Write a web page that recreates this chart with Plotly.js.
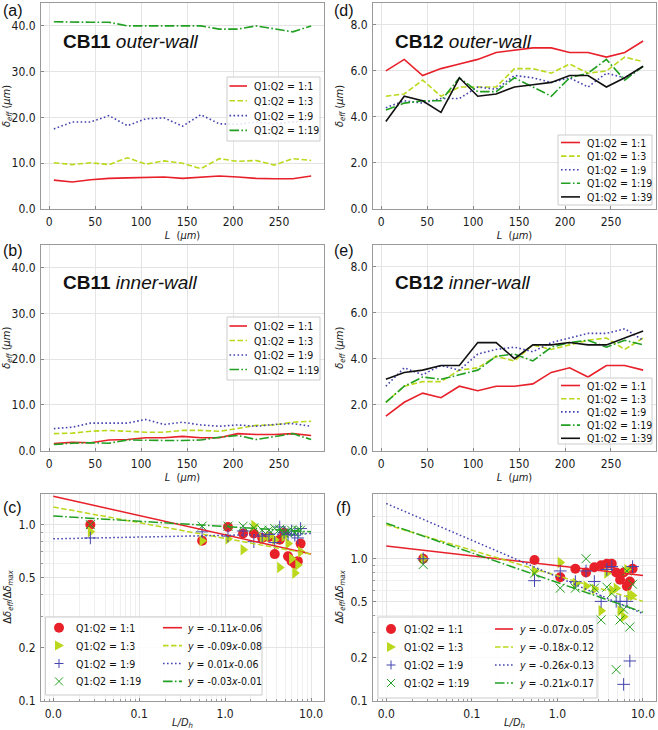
<!DOCTYPE html>
<html><head><meta charset="utf-8">
<script src="https://cdn.plot.ly/plotly-3.0.1.min.js"></script>
<style>html,body{margin:0;padding:0;background:#fff}#chart{width:658px;height:730px}</style>
</head><body><div id="chart"></div>
<script>
// ---------------- DATA ----------------
const L_um = [5, 25, 45, 65, 85, 105, 125, 145, 165, 185, 205, 225, 245, 265, 285];
const ratioNames = ['Q1:Q2 = 1:1', 'Q1:Q2 = 1:3', 'Q1:Q2 = 1:9', 'Q1:Q2 = 1:19', 'Q1:Q2 = 1:39'];

// (a) CB11 outer-wall
const cb11Outer_1_1  = [6.3, 5.9, 6.4, 6.7, 6.8, 6.9, 7.0, 6.7, 6.9, 7.2, 7.0, 6.7, 6.6, 6.6, 7.2];
const cb11Outer_1_3  = [10.1, 9.7, 10.1, 9.7, 11.2, 9.8, 10.5, 10.0, 8.8, 11.0, 10.4, 10.6, 9.6, 11.0, 10.6];
const cb11Outer_1_9  = [17.5, 19.0, 19.0, 20.4, 18.2, 19.7, 19.9, 18.1, 20.6, 18.6, 18.5, 19.0, 18.6, 19.0, 19.4];
const cb11Outer_1_19 = [40.9, 40.8, 40.8, 40.8, 40.0, 40.0, 40.0, 40.0, 40.0, 39.3, 39.3, 40.0, 39.4, 38.7, 40.0];
// (b) CB11 inner-wall
const cb11Inner_1_1  = [1.5, 1.8, 1.7, 2.3, 2.4, 2.8, 2.8, 3.1, 2.8, 2.8, 3.7, 3.5, 3.5, 3.7, 3.3];
const cb11Inner_1_3  = [3.7, 3.8, 4.2, 4.4, 4.2, 4.0, 4.0, 4.4, 4.4, 4.2, 4.8, 5.5, 5.6, 6.2, 6.4];
const cb11Inner_1_9  = [4.8, 5.1, 6.0, 6.0, 6.0, 6.8, 5.7, 6.2, 5.6, 5.3, 5.6, 5.3, 5.7, 5.9, 5.3];
const cb11Inner_1_19 = [1.3, 1.6, 1.7, 1.6, 2.3, 2.2, 2.2, 2.2, 2.3, 2.9, 3.3, 2.4, 3.1, 3.7, 2.4];
// (d) CB12 outer-wall
const cb12Outer_1_1  = [6.0, 6.5, 5.8, 6.1, 6.3, 6.5, 6.8, 6.9, 7.0, 7.0, 6.8, 6.8, 6.6, 6.8, 7.3];
const cb12Outer_1_3  = [4.9, 5.0, 5.6, 4.9, 5.3, 5.3, 5.3, 6.1, 6.1, 5.9, 6.3, 5.9, 6.0, 6.6, 6.4];
const cb12Outer_1_9  = [4.4, 4.7, 4.6, 4.8, 4.8, 5.3, 5.2, 5.8, 5.7, 5.5, 5.7, 5.3, 5.9, 5.7, 6.2];
const cb12Outer_1_19 = [4.3, 4.6, 4.7, 4.7, 5.7, 5.1, 5.1, 5.7, 5.3, 4.9, 5.7, 5.9, 6.5, 5.6, 6.2];
const cb12Outer_1_39 = [3.8, 4.9, 4.7, 4.2, 5.7, 4.9, 5.0, 5.3, 5.4, 5.5, 5.8, 5.8, 5.3, 5.7, 6.2];
// (e) CB12 inner-wall
const cb12Inner_1_1  = [1.5, 2.1, 2.5, 2.3, 2.8, 2.6, 2.8, 2.8, 2.9, 3.4, 3.6, 3.2, 3.7, 3.7, 3.5];
const cb12Inner_1_3  = [2.1, 2.8, 3.0, 3.0, 3.5, 3.6, 4.1, 3.9, 4.6, 4.4, 4.6, 4.8, 4.9, 4.4, 4.9];
const cb12Inner_1_9  = [2.8, 3.6, 3.3, 3.7, 3.5, 4.2, 4.4, 4.5, 4.3, 4.7, 4.9, 5.1, 5.1, 5.3, 4.8];
const cb12Inner_1_19 = [2.1, 2.8, 3.2, 3.1, 3.3, 3.5, 4.1, 4.2, 3.9, 4.5, 4.7, 4.8, 4.5, 4.8, 4.6];
const cb12Inner_1_39 = [3.1, 3.4, 3.5, 3.7, 3.7, 4.7, 4.7, 4.0, 4.6, 4.6, 4.7, 4.6, 4.6, 4.9, 5.2];

// (c), (f) normalised data vs L/Dh
const LDh = [0.027, 0.54, 1.08, 1.62, 2.16, 2.7, 3.24, 3.78, 4.32, 4.86, 5.4, 5.94, 6.48, 7.02, 7.56];
const c_1_1  = [1.0, 0.81, 0.97, 0.89, 0.89, 0.84, 0.85, 0.68, 0.82, 0.90, 0.66, 0.62, 0.60, 0.62, 0.78];
const c_1_3  = [0.91, 0.81, 0.83, 0.72, 0.99, 0.83, 0.86, 0.82, 0.57, 0.86, 0.78, 0.64, 0.53, 0.59, 0.70];
const c_1_9  = [0.84, 0.91, 0.86, 0.92, 0.80, 0.86, 0.88, 0.79, 0.97, 0.90, 0.88, 0.92, 0.87, 0.84, 0.95];
const c_1_19 = [1.0, 0.98, 0.98, 0.98, 0.96, 0.93, 0.93, 0.95, 0.94, 0.89, 0.92, 0.93, 0.90, 0.93, 0.93];
const f_1_1  = [1.0, 0.98, 0.74, 0.85, 0.80, 0.87, 0.90, 0.92, 0.92, 0.80, 0.71, 0.80, 0.64, 0.69, 0.85];
const f_1_3  = [1.0, 0.82, 0.94, 0.67, 0.64, 0.61, 0.43, 0.79, 0.60, 0.62, 0.43, 0.39, 0.84, 0.55, 0.55];
const f_1_9  = [1.0, 0.70, 0.82, 0.69, 0.82, 0.69, 0.50, 0.84, 0.88, 0.50, 0.50, 0.13, 0.50, 0.19, 0.88];
const f_1_19 = [0.91, 0.79, 0.62, 0.62, 1.0, 0.62, 0.37, 0.63, 0.57, 0.165, 0.37, 0.44, 0.82, 0.33, 0.66];

// fitted power-law lines (end points)
const fitX = [0.01, 10];
const fitC_1_1 = [1.45, 0.68], fitC_1_3 = [1.26, 0.68], fitC_1_9 = [0.83, 0.89], fitC_1_19 = [1.12, 0.91];
const fitF_1_1 = [1.23, 0.76], fitF_1_3 = [1.74, 0.50], fitF_1_9 = [2.45, 0.41], fitF_1_19 = [1.78, 0.42];
const fitC_labels = ['<i>y</i> = -0.11<i>x</i>-0.06', '<i>y</i> = -0.09<i>x</i>-0.08', '<i>y</i> = 0.01<i>x</i>-0.06', '<i>y</i> = -0.03<i>x</i>-0.01'];
const fitF_labels = ['<i>y</i> = -0.07<i>x</i>-0.05', '<i>y</i> = -0.18<i>x</i>-0.12', '<i>y</i> = -0.26<i>x</i>-0.13', '<i>y</i> = -0.21<i>x</i>-0.17'];

// tick labels
const linXTicks = [0, 50, 100, 150, 200, 250];
const yTicksCB11 = [0, 10, 20, 30, 40], yTextCB11 = ['0.0', '10.0', '20.0', '30.0', '40.0'];
const yTicksCB12 = [0, 2, 4, 6, 8], yTextCB12 = ['0.0', '2.0', '4.0', '6.0', '8.0'];
const logXTicks = [0.01, 0.1, 1, 10], logXText = ['0.0', '0.1', '1.0', '10.0'];
const logYTicks = [0.1, 0.2, 0.5, 1.0], logYText = ['0.1', '0.2', '0.5', '1.0'];

// ---------------- STYLE ----------------
const FONT = 'DejaVu Sans Condensed, DejaVu Sans, sans-serif';
const TFONT = 'Liberation Sans, Arial, sans-serif';
const W = 658, H = 730;
const px = x => x / W, py = y => 1 - y / H;
const COL = {r: '#e8202a', y: '#bcd81c', b: '#4444b0', g: '#22a022', k: '#111111'};
const DASH = {r: 'solid', y: '5.5px,2.5px', b: '1.6px,2.4px', g: '9.5px,2.4px,1.6px,2.4px', k: 'solid'};
const keys = ['r', 'y', 'b', 'g', 'k'];

const traces = [];
function lineSet(seriesList, xa, ya) {
  seriesList.forEach((s, i) => {
    const k = keys[i];
    traces.push({type: 'scatter', mode: 'lines', x: L_um, y: s, xaxis: xa, yaxis: ya, name: ratioNames[i],
      line: {color: COL[k], width: 1.6, dash: DASH[k]}, showlegend: false, hoverinfo: 'skip'});
  });
}
lineSet([cb11Outer_1_1, cb11Outer_1_3, cb11Outer_1_9, cb11Outer_1_19], 'x', 'y');
lineSet([cb11Inner_1_1, cb11Inner_1_3, cb11Inner_1_9, cb11Inner_1_19], 'x2', 'y2');
lineSet([cb12Outer_1_1, cb12Outer_1_3, cb12Outer_1_9, cb12Outer_1_19, cb12Outer_1_39], 'x4', 'y4');
lineSet([cb12Inner_1_1, cb12Inner_1_3, cb12Inner_1_9, cb12Inner_1_19, cb12Inner_1_39], 'x5', 'y5');

const MK = [
  {symbol: 'circle', size: 10, color: COL.r, line: {width: 0}},
  {symbol: 'triangle-right', size: 10, color: COL.y, line: {width: 0}},
  {symbol: 'cross-thin-open', size: 9, color: COL.b, line: {width: 1, color: COL.b}},
  {symbol: 'x-thin-open', size: 9, color: COL.g, line: {width: 1, color: COL.g}}
];
function scatterSet(seriesList, fits, xa, ya) {
  seriesList.forEach((s, i) => {
    traces.push({type: 'scatter', mode: 'markers', x: LDh, y: s, xaxis: xa, yaxis: ya, name: ratioNames[i],
      marker: MK[i], showlegend: false, hoverinfo: 'skip'});
  });
  fits.forEach((f, i) => {
    const k = keys[i];
    traces.push({type: 'scatter', mode: 'lines', x: fitX, y: f, xaxis: xa, yaxis: ya,
      line: {color: COL[k], width: 1.5, dash: DASH[k]}, showlegend: false, hoverinfo: 'skip'});
  });
}
scatterSet([c_1_1, c_1_3, c_1_9, c_1_19], [fitC_1_1, fitC_1_3, fitC_1_9, fitC_1_19], 'x3', 'y3');
scatterSet([f_1_1, f_1_3, f_1_9, f_1_19], [fitF_1_1, fitF_1_3, fitF_1_9, fitF_1_19], 'x6', 'y6');

// ---------------- AXES ----------------
const common = {ticks: 'inside', ticklen: 3, tickwidth: 1, tickcolor: '#888', showgrid: true, gridcolor: '#e4e4e4',
  gridwidth: 1, showline: true, mirror: true, linecolor: '#9a9a9a', linewidth: 1, zeroline: false,
  tickfont: {family: FONT, size: 12, color: '#1a1a1a'}, automargin: false, fixedrange: true, ticklabelstandoff: 2};
const tfont = {family: FONT, size: 11, color: '#1a1a1a'};
const xL = [px(41), px(324)], xR = [px(373), px(656)];
const yTop = [py(209), py(3)], yMid = [py(450.5), py(245)], yBot = [py(700.5), py(493.5)];

function linX(dom, anchor) {
  return Object.assign({}, common, {domain: dom, anchor, range: [-9, 299], tickmode: 'array', tickvals: linXTicks,
    title: {text: '<i>L</i>  (<i>μm</i>)', font: tfont, standoff: 1}});
}
function linY(dom, anchor, range, tv, tt) {
  return Object.assign({}, common, {domain: dom, anchor, range, tickmode: 'array', tickvals: tv, ticktext: tt,
    title: {text: '<i>δ</i><sub><i>eff</i></sub> (<i>μm</i>)', font: tfont, standoff: 4}});
}
const minorLogX = [], minorLogY = [];
[0.001, 0.01, 0.1, 1, 10].forEach(d => { for (let m = 2; m <= 9; m++) minorLogX.push(m * d); });
[0.1, 1].forEach(d => { for (let m = 2; m <= 9; m++) minorLogY.push(m * d); });
const minorCommon = {ticks: 'inside', ticklen: 2, tickcolor: '#999', showgrid: true, gridcolor: '#f0f0f0', tickmode: 'array'};
function logX(dom, anchor, range) {
  return Object.assign({}, common, {domain: dom, anchor, type: 'log', range, tickmode: 'array', tickvals: logXTicks, ticktext: logXText,
    minor: Object.assign({}, minorCommon, {tickvals: minorLogX}),
    title: {text: '<i>L/D<sub>h</sub></i>', font: tfont, standoff: 1}});
}
function logY(dom, anchor, range) {
  return Object.assign({}, common, {domain: dom, anchor, type: 'log', range, tickmode: 'array', tickvals: logYTicks, ticktext: logYText,
    minor: Object.assign({}, minorCommon, {tickvals: minorLogY}),
    title: {text: 'Δ<i>δ<sub>eff</sub></i>/Δ<i>δ<sub>max</sub></i>', font: tfont, standoff: 4}});
}

// ---------------- LEGENDS (drawn as boxes, samples and text) ----------------
const shapes = [], annotations = [];
function box(x0, y0, x1, y1) {
  shapes.push({type: 'rect', xref: 'paper', yref: 'paper', layer: 'above', x0: px(x0), x1: px(x1), y0: py(y1), y1: py(y0),
    fillcolor: 'rgba(255,255,255,0.85)', line: {color: '#cccccc', width: 1}});
}
function sampleLine(x0, x1, y, k) {
  shapes.push({type: 'line', xref: 'paper', yref: 'paper', layer: 'above', x0: px(x0), x1: px(x1), y0: py(y), y1: py(y),
    line: {color: COL[k], width: 1.6, dash: DASH[k]}});
}
function text(x, y, t, size, family, anchor) {
  annotations.push({xref: 'paper', yref: 'paper', x: px(x), y: py(y), xanchor: anchor || 'left', yanchor: 'middle',
    text: t, showarrow: false, borderpad: 0, font: {family: family || FONT, size: size || 10, color: '#111'}});
}
function sampleMarker(i, cx, cy) {
  const r = 5;
  if (i === 0) {
    shapes.push({type: 'circle', xref: 'paper', yref: 'paper', layer: 'above', x0: px(cx - r), x1: px(cx + r), y0: py(cy + r), y1: py(cy - r),
      fillcolor: COL.r, line: {width: 0}});
  } else if (i === 1) {
    shapes.push({type: 'path', xref: 'paper', yref: 'paper', layer: 'above',
      path: `M ${px(cx - 4)},${py(cy - 5)} L ${px(cx + 5)},${py(cy)} L ${px(cx - 4)},${py(cy + 5)} Z`,
      fillcolor: COL.y, line: {width: 0}});
  } else if (i === 2) {
    shapes.push({type: 'line', xref: 'paper', yref: 'paper', layer: 'above', x0: px(cx - 4.5), x1: px(cx + 4.5), y0: py(cy), y1: py(cy), line: {color: COL.b, width: 1}});
    shapes.push({type: 'line', xref: 'paper', yref: 'paper', layer: 'above', x0: px(cx), x1: px(cx), y0: py(cy - 4.5), y1: py(cy + 4.5), line: {color: COL.b, width: 1}});
  } else {
    shapes.push({type: 'line', xref: 'paper', yref: 'paper', layer: 'above', x0: px(cx - 4), x1: px(cx + 4), y0: py(cy - 4), y1: py(cy + 4), line: {color: COL.g, width: 1}});
    shapes.push({type: 'line', xref: 'paper', yref: 'paper', layer: 'above', x0: px(cx - 4), x1: px(cx + 4), y0: py(cy + 4), y1: py(cy - 4), line: {color: COL.g, width: 1}});
  }
}
function lineLegend(x0, y0, x1, y1, firstY, step, n, lx0, lx1, tx) {
  box(x0, y0, x1, y1);
  for (let i = 0; i < n; i++) {
    const yy = firstY + i * step;
    sampleLine(lx0, lx1, yy, keys[i]);
    text(tx, yy, ratioNames[i], 10.5);
  }
}
lineLegend(227, 77, 320, 141, 86, 14.8, 4, 229.5, 247, 253);
lineLegend(227, 317, 320, 380, 326, 14.5, 4, 229.5, 247, 253);
lineLegend(558, 135, 652, 205, 142.5, 13.6, 5, 561, 580, 586);
lineLegend(558, 378, 652, 444, 385.5, 13.2, 5, 561, 580, 586);

function fitLegend(x0, y0, x1, y1, firstY, step, mx, tx, lx0, lx1, ftx, labels) {
  box(x0, y0, x1, y1);
  for (let i = 0; i < 4; i++) {
    const yy = firstY + i * step;
    sampleMarker(i, mx, yy);
    text(tx, yy, ratioNames[i], 10.5);
    sampleLine(lx0, lx1, yy, keys[i]);
    text(ftx, yy, labels[i], 10.5);
  }
}
fitLegend(45.5, 617, 262, 695, 627.7, 17.9, 59, 75, 163, 182, 186, fitC_labels);
fitLegend(378, 617, 597, 698, 629, 18, 391, 403, 495, 513, 518, fitF_labels);

// panel labels and titles
text(2, 10, '(a)', 16, TFONT);
text(333, 10, '(d)', 16, TFONT);
text(2, 251, '(b)', 16, TFONT);
text(333, 251, '(e)', 16, TFONT);
text(2, 507, '(c)', 16, TFONT);
text(335, 507, '(f)', 16, TFONT);
text(62, 41, '<b>CB11</b> <i>outer-wall</i>', 19, TFONT);
text(394, 41, '<b>CB12</b> <i>outer-wall</i>', 19, TFONT);
text(62, 282, '<b>CB11</b> <i>inner-wall</i>', 19, TFONT);
text(394, 282, '<b>CB12</b> <i>inner-wall</i>', 19, TFONT);

const layout = {
  width: W, height: H, margin: {l: 0, r: 0, t: 0, b: 0}, paper_bgcolor: '#fff', plot_bgcolor: '#fff', showlegend: false,
  xaxis: linX(xL, 'y'), yaxis: linY(yTop, 'x', [0, 45], yTicksCB11, yTextCB11),
  xaxis2: linX(xL, 'y2'), yaxis2: linY(yMid, 'x2', [0, 45], yTicksCB11, yTextCB11),
  xaxis3: logX(xL, 'y3', [-2.143, 1.151]), yaxis3: logY(yBot, 'x3', [-1, 0.177]),
  xaxis4: linX(xR, 'y4'), yaxis4: linY(yTop, 'x4', [0, 8.95], yTicksCB12, yTextCB12),
  xaxis5: linX(xR, 'y5'), yaxis5: linY(yMid, 'x5', [0, 8.95], yTicksCB12, yTextCB12),
  xaxis6: logX(xR, 'y6', [-2.155, 1.152]), yaxis6: logY(yBot, 'x6', [-1, 0.46]),
  shapes, annotations
};
Plotly.newPlot('chart', traces, layout, {staticPlot: true, displayModeBar: false});
</script></body></html>
